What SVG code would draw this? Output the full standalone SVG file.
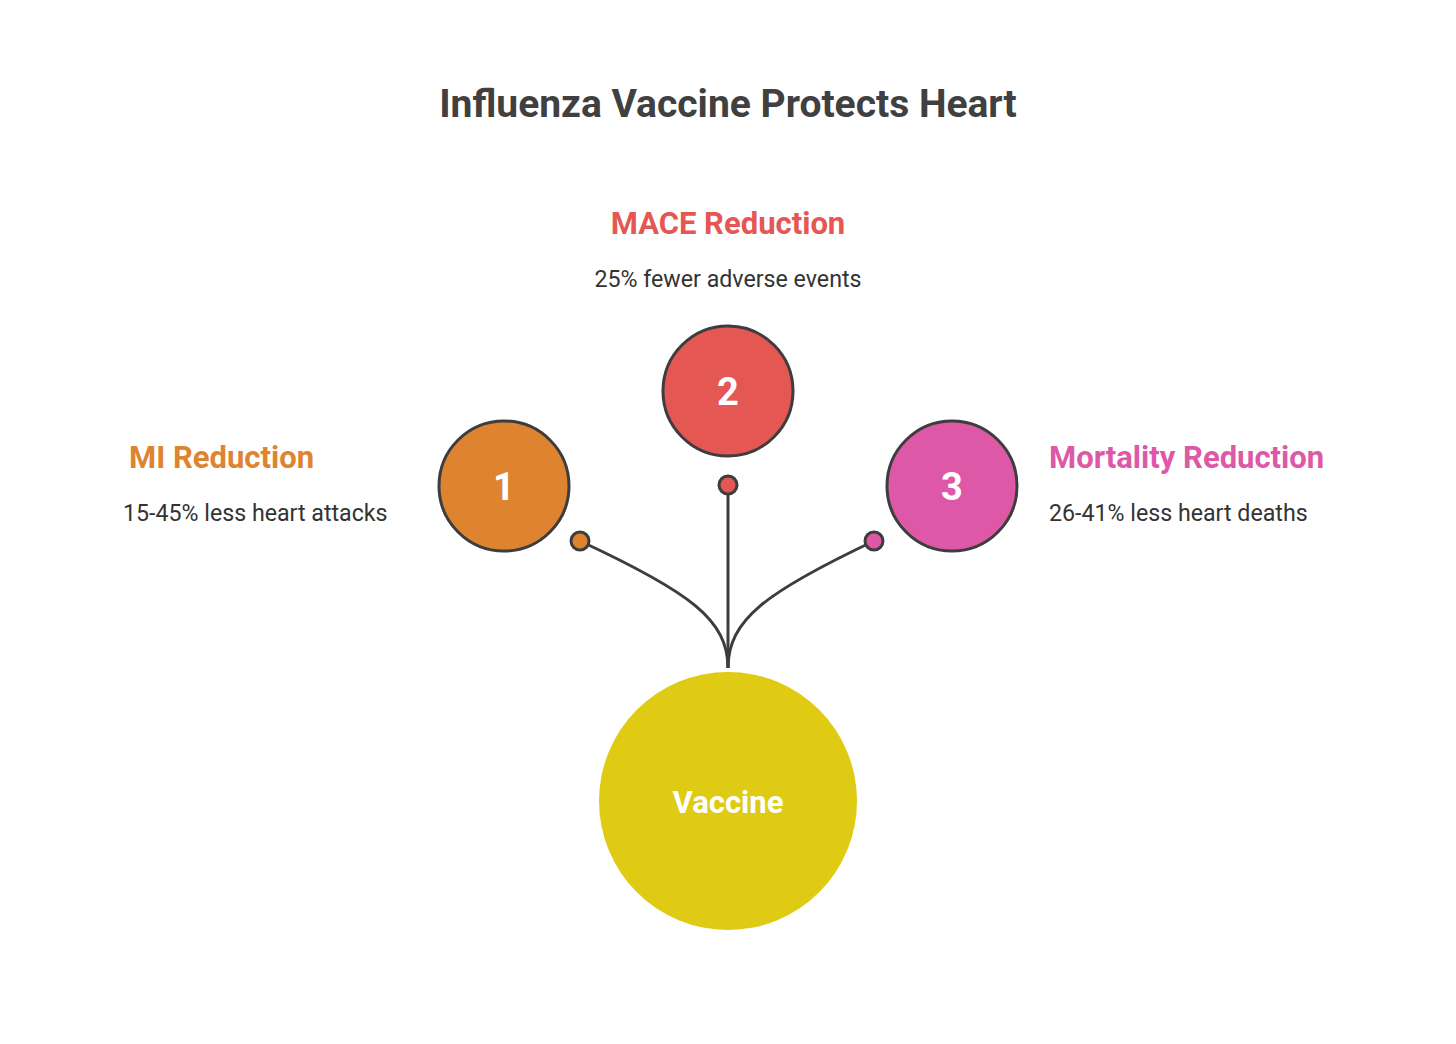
<svg xmlns="http://www.w3.org/2000/svg" width="1456" height="1044" viewBox="0 0 1456 1044">
<style>
.t{font-family:Roboto,"Liberation Sans",sans-serif;font-weight:700;}
.d{font-family:Roboto,"Liberation Sans",sans-serif;font-size:23.2px;fill:#333333;}
.num{font-family:Roboto,"Liberation Sans",sans-serif;font-weight:700;font-size:38px;fill:#ffffff;text-anchor:middle;}
.c{stroke:#3d3d3d;stroke-width:3;}
.ln{fill:none;stroke:#3d3d3d;stroke-width:3;}
</style>
<rect width="1456" height="1044" fill="#ffffff"/>
<text class="t" x="728" y="117" font-size="39" fill="#404040" text-anchor="middle">Influenza Vaccine Protects Heart</text>
<g id="connectors">
<path class="ln" d="M728 494 L728 668"/>
<path class="ln" d="M580 541 C690 592 728 620 728 668"/>
<path class="ln" d="M874 541 C766 592 728 620 728 668"/>
<circle class="c" cx="580" cy="541" r="9" fill="#de8431"/>
<circle class="c" cx="728" cy="485" r="9" fill="#e45753"/>
<circle class="c" cx="874" cy="541" r="9" fill="#dd59a8"/>
</g>
<g id="node-vaccine">
<circle cx="728" cy="801" r="129" fill="#dfcb14"/>
<text class="t" x="728" y="813" font-size="31" fill="#ffffff" text-anchor="middle">Vaccine</text>
</g>
<g id="node-1">
<circle class="c" cx="504" cy="486" r="65" fill="#de8431"/>
<text class="num" x="504" y="500">1</text>
</g>
<g id="node-2">
<circle class="c" cx="728" cy="391" r="65" fill="#e45753"/>
<text class="num" x="728" y="405">2</text>
</g>
<g id="node-3">
<circle class="c" cx="952" cy="486" r="65" fill="#dd59a8"/>
<text class="num" x="952" y="500">3</text>
</g>
<g id="label-mi">
<text class="t" x="129" y="468" font-size="31" fill="#de8431">MI Reduction</text>
<text class="d" x="123" y="521">15-45% less heart attacks</text>
</g>
<g id="label-mace">
<text class="t" x="728" y="234" font-size="31" fill="#e45753" text-anchor="middle">MACE Reduction</text>
<text class="d" x="728" y="287" text-anchor="middle">25% fewer adverse events</text>
</g>
<g id="label-mortality">
<text class="t" x="1049" y="468" font-size="31" fill="#dd59a8">Mortality Reduction</text>
<text class="d" x="1049" y="521">26-41% less heart deaths</text>
</g>
</svg>
